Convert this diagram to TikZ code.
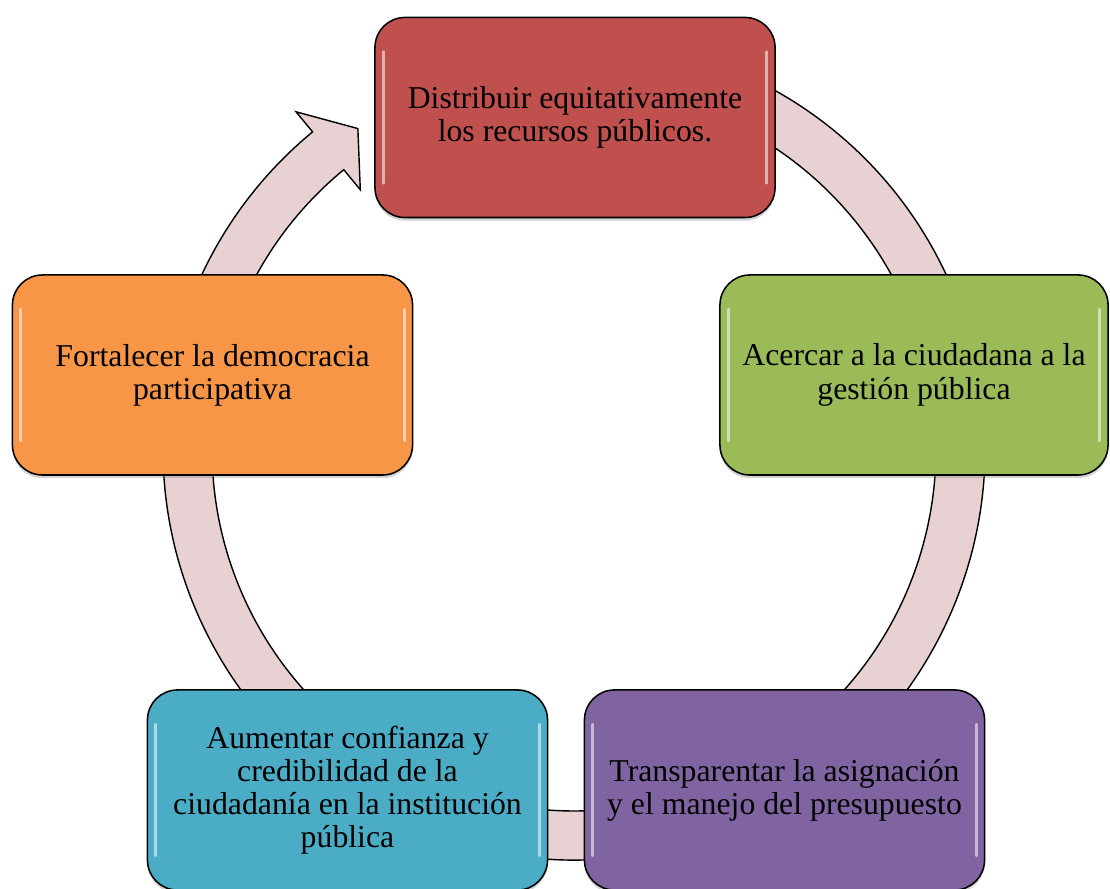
\documentclass[tikz,border=0pt]{standalone}
\usepackage{fontspec}
\setmainfont{Liberation Serif}
\usetikzlibrary{calc,shadows}
\definecolor{cycred}{HTML}{C0504D}
\definecolor{cycgreen}{HTML}{9BBB59}
\definecolor{cycpurple}{HTML}{8064A2}
\definecolor{cyccyan}{HTML}{4BACC6}
\definecolor{cycorange}{HTML}{F79646}
\definecolor{cycring}{RGB}{231,209,210}

\begin{document}
\begin{tikzpicture}[
    x=0.025cm, y=0.025cm,
    fase/.style={rectangle, rounded corners=0.75cm, draw=black, line width=1.1pt, minimum width=10cm, minimum height=5cm, align=center, font=\fontsize{22.6}{23.6}\selectfont, drop shadow={opacity=0.35, shadow xshift=0pt, shadow yshift=-0.08cm}},
    anillo/.style={draw=black, line width=1pt, fill=cycring},
    brillo/.style={white, opacity=0.55, line width=2pt, line cap=round}
]
\useasboundingbox (0,0) rectangle (1110,888);
\clip (0,0) rectangle (1110,888);

% Ring with arrowhead
\coordinate (c) at (574,439);
\draw[anillo] ($(c)+(115:411)$) arc[start angle=115, end angle=-230.5, radius=411]
  -- ($(c)+(-230.5:437)$) -- ($(c)+(-236:386.5)$) -- ($(c)+(-230.5:336)$) -- ($(c)+(-230.5:362)$)
  arc[start angle=-230.5, end angle=115, radius=362] -- cycle;

% Stages
\node[fase, fill=cycred] (distribuir) at (575,770.5) {Distribuir equitativamente\\los recursos públicos.};
\node[fase, fill=cycgreen, minimum width=9.7cm] (acercar) at (914,513) {Acercar a la ciudadana a la\\gestión pública};
\node[fase, fill=cycpurple] (transparentar) at (784.5,98) {Transparentar la asignación\\y el manejo del presupuesto};
\node[fase, fill=cyccyan] (aumentar) at (347.5,98) {Aumentar confianza y\\credibilidad de la\\ciudadanía en la institución\\pública};
\node[fase, fill=cycorange] (fortalecer) at (212.5,513) {Fortalecer la democracia\\participativa};

% Gloss
\foreach \n in {distribuir,acercar,transparentar,aumentar,fortalecer} {
  \draw[brillo] ($(\n.north west)+(9,-35)$) -- ($(\n.south west)+(9,35)$);
  \draw[brillo] ($(\n.north east)+(-9,-35)$) -- ($(\n.south east)+(-9,35)$);
}

\end{tikzpicture}
\end{document}
